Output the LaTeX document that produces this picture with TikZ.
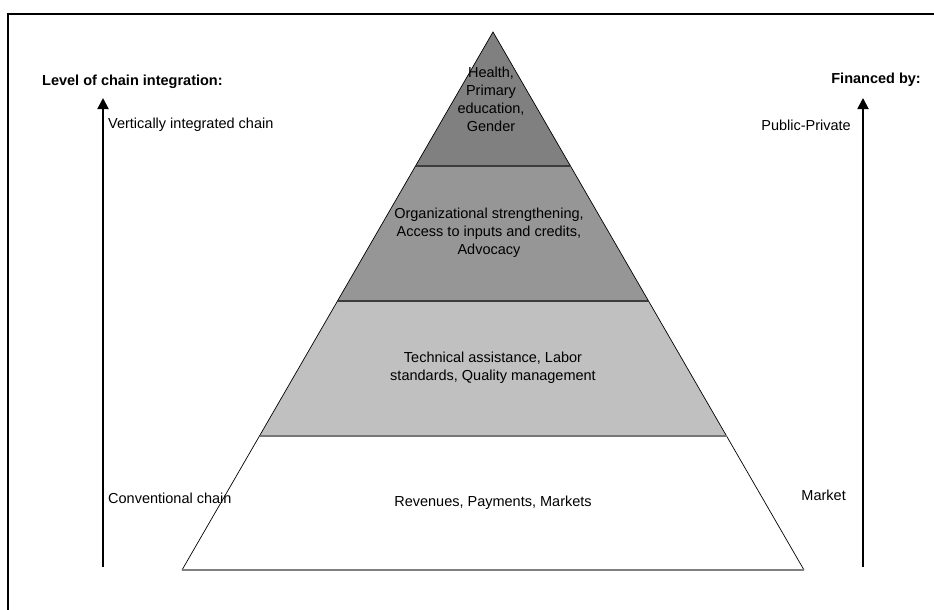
\documentclass[tikz,border=0pt]{standalone}
\usepackage{fontspec}
\setmainfont{Liberation Sans}
\usetikzlibrary{arrows.meta}

\definecolor{tierA}{RGB}{128,128,128}
\definecolor{tierB}{RGB}{150,150,150}
\definecolor{tierC}{RGB}{192,192,192}
\definecolor{sepgray}{RGB}{60,60,60}

\tikzset{
    txt/.style={inner sep=0pt, font=\fontsize{14.5}{18}\selectfont, align=center},
    sidetxt/.style={txt, align=left},
    headtxt/.style={sidetxt, font=\fontsize{14.5}{18}\selectfont\bfseries},
    axis/.style={line width=1.8pt, -{Triangle[width=11pt,length=11pt]}},
    sep/.style={sepgray, line width=1.6pt}
}

\begin{document}
\begin{tikzpicture}[x=1pt, y=-1pt]
    \useasboundingbox (0,0) rectangle (934,610);

    % outer frame
    \draw[line width=2pt] (8,610) -- (8,14) -- (934,14);

    % pyramid corners
    \coordinate (apex) at (493,32);
    \coordinate (l1) at (415.5,166); \coordinate (r1) at (570.5,166);
    \coordinate (l2) at (337.5,301); \coordinate (r2) at (648.5,301);
    \coordinate (l3) at (259.5,436); \coordinate (r3) at (726.5,436);
    \coordinate (l4) at (182,570);   \coordinate (r4) at (804,570);

    \fill[tierA] (apex) -- (r1) -- (l1) -- cycle;
    \fill[tierB] (l1) -- (r1) -- (r2) -- (l2) -- cycle;
    \fill[tierC] (l2) -- (r2) -- (r3) -- (l3) -- cycle;

    \draw[line width=0.7pt] (l4) -- (apex) -- (r4);
    \draw[sep] (l1) -- (r1);
    \draw[sep] (l2) -- (r2);
    \draw[sepgray!70, line width=1.6pt] (l3) -- (r3);
    \draw[gray, line width=1.4pt] (l4) -- (r4);

    % tier labels
    \node[txt] (health) at (491,99) {Health,\\Primary\\education,\\Gender};
    \node[txt] (org) at (489,233) {Organizational strengthening,\\Access to inputs and credits,\\Advocacy};
    \node[txt] (tech) at (493,368) {Technical assistance, Labor\\standards, Quality management};
    \node[txt] (rev) at (493,503) {Revenues, Payments, Markets};

    % left axis
    \coordinate (lbot) at (103,567);
    \coordinate (ltop) at (103,98);
    \draw[axis] (lbot) -- (ltop);
    \node[headtxt, anchor=west] (level) at (42,82) {Level of chain integration:};
    \node[sidetxt, anchor=west] (vert) at (108,125) {Vertically integrated chain};
    \node[sidetxt, anchor=west] (conv) at (108,498) {Conventional chain};

    % right axis
    \coordinate (rbot) at (863,567);
    \coordinate (rtop) at (863,98);
    \draw[axis] (rbot) -- (rtop);
    \node[headtxt, anchor=east] (fin) at (921,80) {Financed by:};
    \node[sidetxt, anchor=east] (pub) at (851,125) {Public-Private};
    \node[sidetxt, anchor=east] (mkt) at (846,495) {Market};
\end{tikzpicture}
\end{document}
